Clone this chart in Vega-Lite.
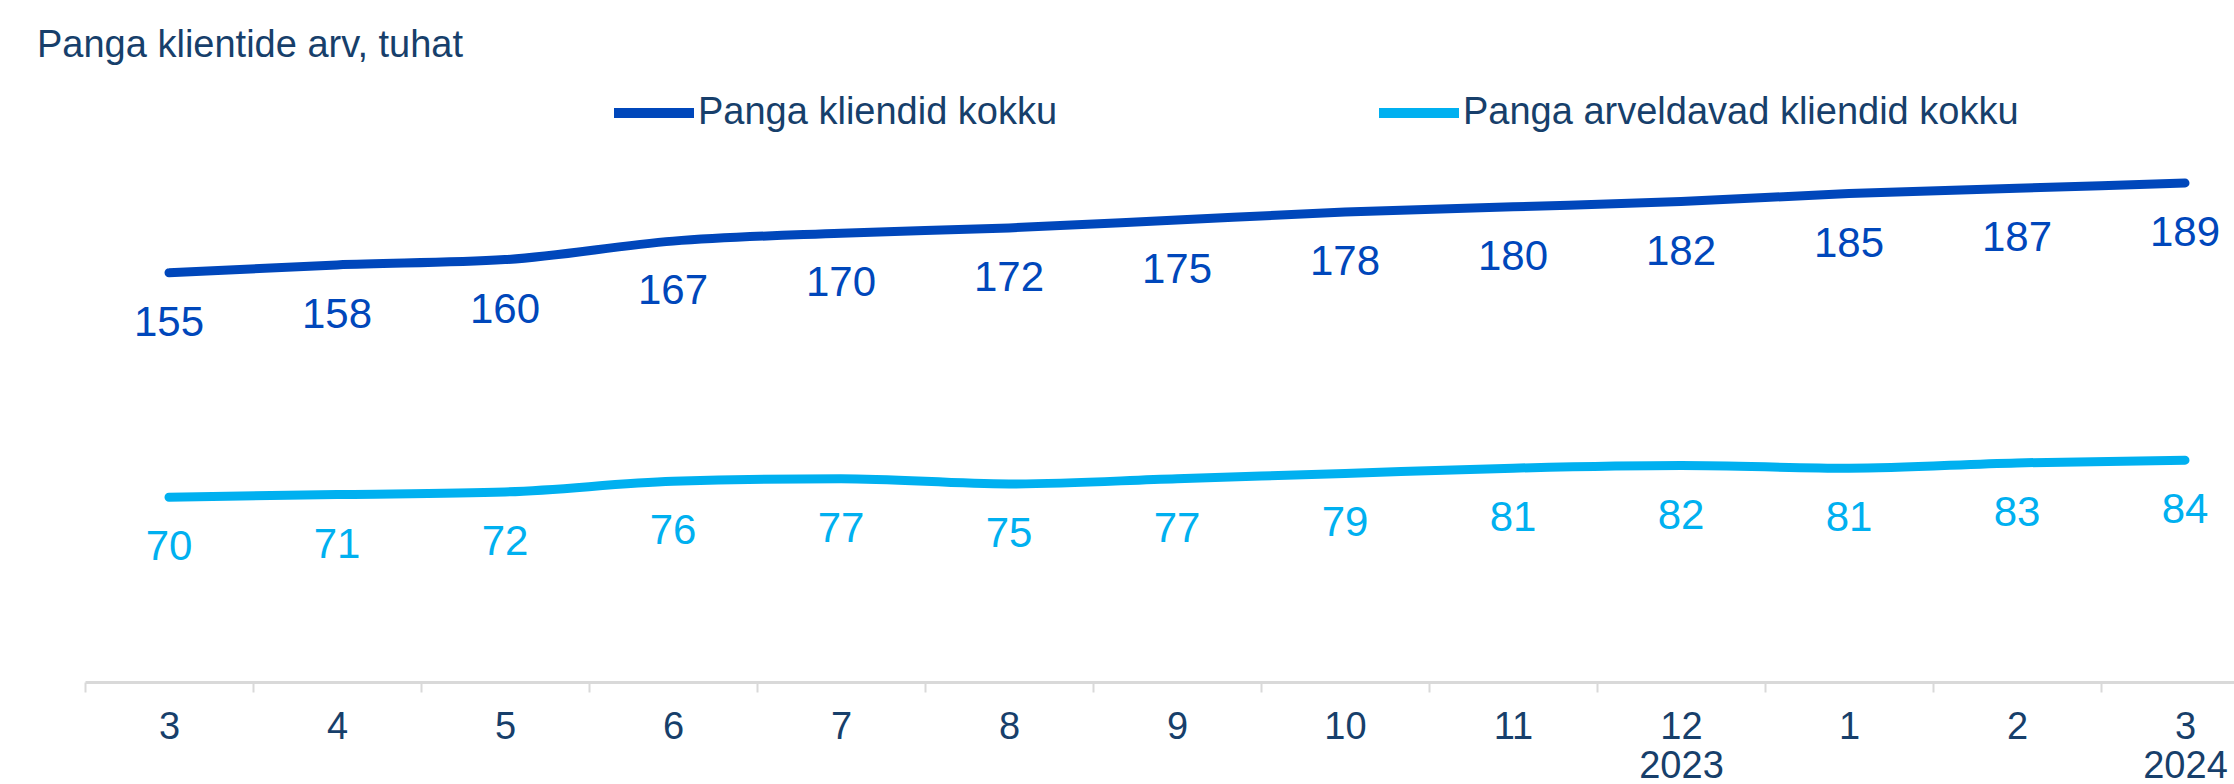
{
  "$schema": "https://vega.github.io/schema/vega-lite/v6.json",
  "width": 2184,
  "height": 660,
  "autosize": {"type": "none"},
  "padding": {"left": 85, "top": 22, "right": -35, "bottom": 102},
  "background": "white",
  "title": {
    "text": "Panga klientide arv, tuhat",
    "anchor": "start",
    "frame": "group",
    "dx": -48,
    "dy": 73,
    "offset": 0,
    "baseline": "alphabetic",
    "fontSize": 38,
    "font": "Liberation Sans",
    "fontWeight": "normal",
    "color": "#173f6b"
  },
  "config": {"view": {"stroke": null}},
  "data": {
    "values": [
      {"period": "2023-03", "series": "Panga kliendid kokku", "value": 155},
      {"period": "2023-04", "series": "Panga kliendid kokku", "value": 158},
      {"period": "2023-05", "series": "Panga kliendid kokku", "value": 160},
      {"period": "2023-06", "series": "Panga kliendid kokku", "value": 167},
      {"period": "2023-07", "series": "Panga kliendid kokku", "value": 170},
      {"period": "2023-08", "series": "Panga kliendid kokku", "value": 172},
      {"period": "2023-09", "series": "Panga kliendid kokku", "value": 175},
      {"period": "2023-10", "series": "Panga kliendid kokku", "value": 178},
      {"period": "2023-11", "series": "Panga kliendid kokku", "value": 180},
      {"period": "2023-12", "series": "Panga kliendid kokku", "value": 182},
      {"period": "2024-01", "series": "Panga kliendid kokku", "value": 185},
      {"period": "2024-02", "series": "Panga kliendid kokku", "value": 187},
      {"period": "2024-03", "series": "Panga kliendid kokku", "value": 189},
      {"period": "2023-03", "series": "Panga arveldavad kliendid kokku", "value": 70},
      {"period": "2023-04", "series": "Panga arveldavad kliendid kokku", "value": 71},
      {"period": "2023-05", "series": "Panga arveldavad kliendid kokku", "value": 72},
      {"period": "2023-06", "series": "Panga arveldavad kliendid kokku", "value": 76},
      {"period": "2023-07", "series": "Panga arveldavad kliendid kokku", "value": 77},
      {"period": "2023-08", "series": "Panga arveldavad kliendid kokku", "value": 75},
      {"period": "2023-09", "series": "Panga arveldavad kliendid kokku", "value": 77},
      {"period": "2023-10", "series": "Panga arveldavad kliendid kokku", "value": 79},
      {"period": "2023-11", "series": "Panga arveldavad kliendid kokku", "value": 81},
      {"period": "2023-12", "series": "Panga arveldavad kliendid kokku", "value": 82},
      {"period": "2024-01", "series": "Panga arveldavad kliendid kokku", "value": 81},
      {"period": "2024-02", "series": "Panga arveldavad kliendid kokku", "value": 83},
      {"period": "2024-03", "series": "Panga arveldavad kliendid kokku", "value": 84}
    ]
  },
  "encoding": {
    "x": {
      "field": "period",
      "type": "ordinal",
      "scale": {"type": "band", "paddingInner": 0, "paddingOuter": 0},
      "axis": {
        "title": null,
        "grid": false,
        "labelAngle": 0,
        "domainColor": "#d9d9d9",
        "domainWidth": 3,
        "tickColor": "#d9d9d9",
        "tickWidth": 2,
        "tickSize": 10,
        "tickBand": "extent",
        "labelFont": "Liberation Sans",
        "labelFontSize": 38,
        "labelColor": "#173f6b",
        "labelPadding": 16,
        "labelLineHeight": 39,
        "labelExpr": "datum.value == '2023-03' ? '3' : datum.value == '2023-04' ? '4' : datum.value == '2023-05' ? '5' : datum.value == '2023-06' ? '6' : datum.value == '2023-07' ? '7' : datum.value == '2023-08' ? '8' : datum.value == '2023-09' ? '9' : datum.value == '2023-10' ? '10' : datum.value == '2023-11' ? '11' : datum.value == '2023-12' ? ['12', '2023'] : datum.value == '2024-01' ? '1' : datum.value == '2024-02' ? '2' : datum.value == '2024-03' ? ['3', '2024'] : ''"
      }
    },
    "y": {
      "field": "value",
      "type": "quantitative",
      "scale": {"domain": [0, 250], "nice": false},
      "axis": null
    },
    "color": {
      "field": "series",
      "type": "nominal",
      "scale": {
        "domain": ["Panga kliendid kokku", "Panga arveldavad kliendid kokku"],
        "range": ["#0047BB", "#00B0F0"]
      },
      "legend": {
        "orient": "none",
        "legendX": 524,
        "legendY": 46,
        "direction": "horizontal",
        "title": null,
        "symbolType": "stroke",
        "symbolSize": 6400,
        "symbolStrokeWidth": 10,
        "labelFont": "Liberation Sans",
        "labelFontSize": 38,
        "labelColor": "#173f6b",
        "labelOffset": -1,
        "labelLimit": 0,
        "columnPadding": 301,
        "padding": 0
      }
    }
  },
  "layer": [
    {
      "mark": {"type": "line", "strokeWidth": 9, "strokeCap": "round", "interpolate": "monotone"},
      "encoding": {}
    },
    {
      "mark": {"type": "text", "dy": 50, "baseline": "middle", "align": "center", "font": "Liberation Sans", "fontSize": 42},
      "encoding": {
        "text": {"field": "value", "type": "quantitative"}
      }
    }
  ]
}
